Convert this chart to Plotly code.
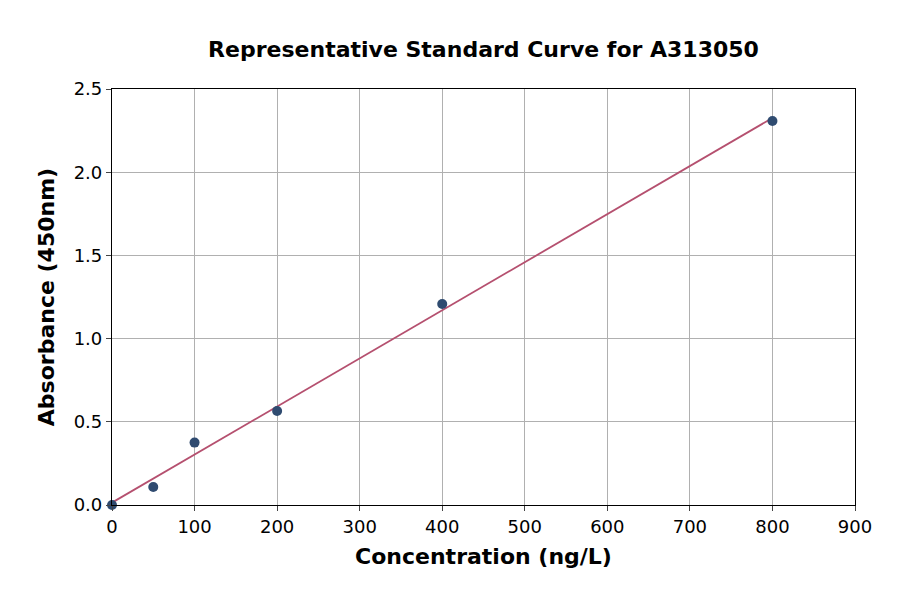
import numpy as np
import plotly.graph_objects as go

# standard curve data
conc = [0, 50, 100, 200, 400, 800]
absorb = [0.0, 0.108, 0.375, 0.565, 1.208, 2.308]

xticks = [0, 100, 200, 300, 400, 500, 600, 700, 800, 900]
yticks = [0.0, 0.5, 1.0, 1.5, 2.0, 2.5]
ytick_text = ["0.0", "0.5", "1.0", "1.5", "2.0", "2.5"]

# linear fit
k, b = np.polyfit(conc, absorb, 1)
fit_x = np.linspace(min(conc), max(conc), 50)
fit_y = k * fit_x + b

fig = go.Figure()
fig.add_trace(go.Scatter(x=fit_x, y=fit_y, mode="lines",
                         line=dict(color="#b5506f", width=1.8), showlegend=False))
fig.add_trace(go.Scatter(x=conc, y=absorb, mode="markers",
                         marker=dict(color="#2f4b70", size=10), showlegend=False,
                         cliponaxis=False))

# page body has an 8px margin, so offsets are shifted by 8
fig.update_layout(
    width=900, height=594,
    margin=dict(l=104, r=53, t=81, b=97),
    paper_bgcolor="white", plot_bgcolor="white",
    font=dict(family="DejaVu Sans", size=18, color="black"),
    title=dict(text="<b>Representative Standard Curve for A313050</b>",
               xref="paper", x=0.5, xanchor="center",
               y=1 - 41 / 594, yanchor="middle",
               font=dict(size=22)),
)
fig.update_xaxes(
    range=[0, 900], tickvals=xticks, ticks="outside", ticklen=5,
    showline=True, linecolor="black", linewidth=1.2, mirror=True,
    showgrid=True, gridcolor="#b0b0b0", gridwidth=1, zeroline=False,
    title=dict(text="<b>Concentration (ng/L)</b>", font=dict(size=22), standoff=12),
)
fig.update_yaxes(
    range=[0, 2.5], tickvals=yticks, ticktext=ytick_text, ticks="outside", ticklen=5,
    showline=True, linecolor="black", linewidth=1.2, mirror=True,
    showgrid=True, gridcolor="#b0b0b0", gridwidth=1, zeroline=False,
    title=dict(text="<b>Absorbance (450nm)</b>", font=dict(size=22), standoff=12),
)

fig.write_html("out.html")
